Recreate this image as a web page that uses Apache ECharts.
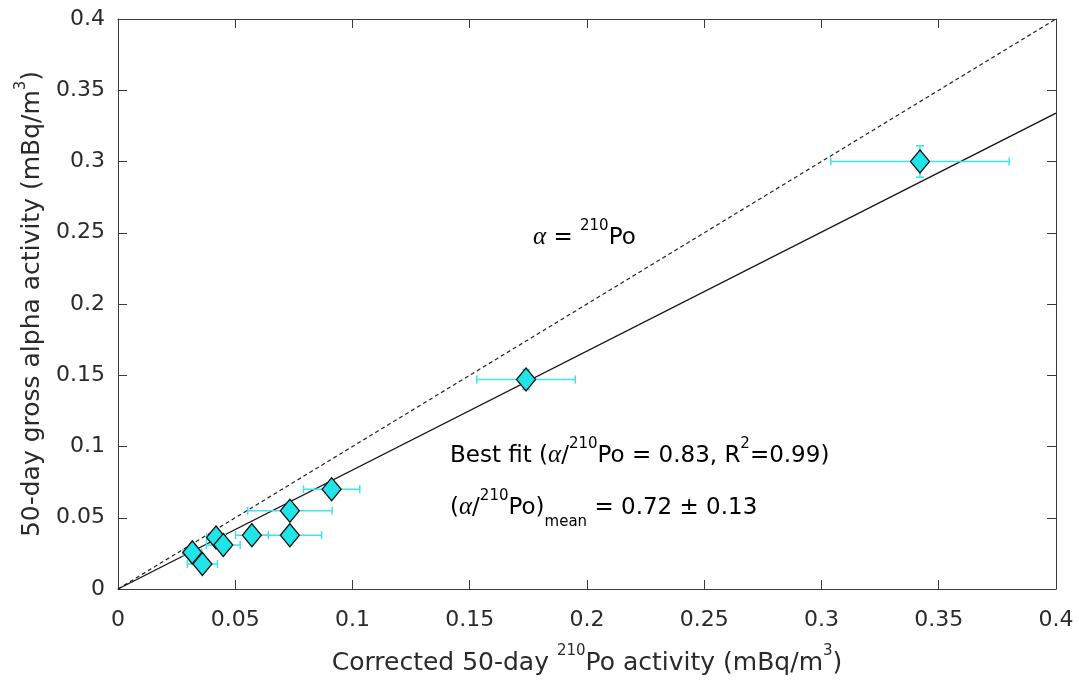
<!DOCTYPE html>
<html><head><meta charset="utf-8">
<script src="https://cdn.jsdelivr.net/npm/echarts@6/dist/echarts.min.js"></script>
<style>html,body{margin:0;padding:0;background:#fff}#c{width:1079px;height:681px}</style>
</head><body><div id="c"></div>
<script>
var xTicks = [0, 0.05, 0.1, 0.15, 0.2, 0.25, 0.3, 0.35, 0.4];
var xVals = [0.0317, 0.0360, 0.0418, 0.0449, 0.0571, 0.0733, 0.0733, 0.0911, 0.174, 0.342];
var yVals = [0.0257, 0.0175, 0.0362, 0.0308, 0.0378, 0.0378, 0.0549, 0.0700, 0.147, 0.300];
var xErr  = [0.0040, 0.0064, 0.0040, 0.0072, 0.0070, 0.0135, 0.0180, 0.0120, 0.021, 0.038];
var yErr  = [0.0030, 0.0030, 0.0030, 0.0030, 0.0030, 0.0030, 0.0030, 0.0040, 0.007, 0.011];
var oneToOne = [[0, 0], [0.4, 0.4]];
var fitLine = [[0, 0], [0.4, 0.334]];

var pts = xVals.map(function (x, i) { return [x, yVals[i]]; });
var errData = xVals.map(function (x, i) { return [x, yVals[i], xErr[i], yErr[i]]; });

var chart = echarts.init(document.getElementById('c'));
var axisCol = '#3a3a3a';
var lblCol = '#2a2a2a';
var font = 'DejaVu Sans, sans-serif';
var supRich = {
  b: { fontSize: 23, fontFamily: font, color: '#1a1a1a', lineHeight: 32, verticalAlign: 'bottom' },
  s: { fontSize: 15, fontFamily: font, color: '#1a1a1a', lineHeight: 32, verticalAlign: 'top', padding: [1, 0, 0, 0] },
  a: { fontSize: 25, fontFamily: 'Liberation Serif, serif', fontStyle: 'italic', color: '#1a1a1a', lineHeight: 32, verticalAlign: 'bottom' },
  sub: { fontSize: 15, fontFamily: font, color: '#1a1a1a', lineHeight: 32, verticalAlign: 'bottom', padding: [0, 0, -10, 0] }
};
var axRich = {
  b: { fontSize: 25, fontFamily: font, color: lblCol, lineHeight: 32, verticalAlign: 'bottom' },
  s: { fontSize: 15, fontFamily: font, color: lblCol, lineHeight: 32, verticalAlign: 'top' }
};

function valAxis(extra) {
  return Object.assign({
    type: 'value', min: 0, max: 0.4, interval: 0.05,
    axisLine: { show: true, onZero: false, lineStyle: { color: axisCol, width: 1 } },
    axisTick: { show: true, inside: true, length: 9, lineStyle: { color: axisCol } },
    splitLine: { show: false },
    axisLabel: { color: lblCol, fontSize: 22, fontFamily: font, margin: 13,
      formatter: function (v) { return String(+v.toFixed(2)); } }
  }, extra);
}

chart.setOption({
  animation: false,
  grid: { left: 118, right: 23, top: 19, bottom: 91 },
  xAxis: [
    valAxis({ position: 'bottom', name: '{b|Corrected 50-day }{s|210}{b|Po activity (mBq/m}{s|3}{b|)}',
      nameLocation: 'middle', nameGap: 55, nameTextStyle: { rich: axRich },
      axisLabel: { color: lblCol, fontSize: 22, fontFamily: font, margin: 20,
        formatter: function (v) { return String(+v.toFixed(2)); } } }),
    valAxis({ position: 'top', axisLabel: { show: false } })
  ],
  yAxis: [
    valAxis({ position: 'left', name: '{b|50-day gross alpha activity (mBq/m}{s|3}{b|)}',
      nameLocation: 'middle', nameRotate: 90, nameGap: 68, nameTextStyle: { rich: axRich } }),
    valAxis({ position: 'right', axisLabel: { show: false } })
  ],
  graphic: [
    { type: 'text', left: 533, top: 218, style: { text: '{a|α}{b| = }{s|210}{b|Po}', rich: supRich } },
    { type: 'text', left: 450, top: 436, style: { text: '{b|Best fit (}{a|α}{b|/}{s|210}{b|Po = 0.83, R}{s|2}{b|=0.99)}', rich: supRich } },
    { type: 'text', left: 450, top: 488, style: { text: '{b|(}{a|α}{b|/}{s|210}{b|Po)}{sub|mean}{b| = 0.72 ± 0.13}', rich: supRich } }
  ],
  series: [
    { type: 'line', data: oneToOne, symbol: 'none', lineStyle: { color: '#222', width: 1.2, type: [4, 3] }, z: 2 },
    { type: 'line', data: fitLine, symbol: 'none', lineStyle: { color: '#111', width: 1.3 }, z: 2 },
    { type: 'custom', data: errData, z: 3,
      renderItem: function (params, api) {
        var x = api.value(0), y = api.value(1), ex = api.value(2), ey = api.value(3);
        var l = api.coord([x - ex, y]), r = api.coord([x + ex, y]);
        var t = api.coord([x, y + ey]), b = api.coord([x, y - ey]);
        var c = 4, st = { stroke: '#3fe3ea', lineWidth: 1.5 };
        return { type: 'group', children: [
          { type: 'line', shape: { x1: l[0], y1: l[1], x2: r[0], y2: r[1] }, style: st },
          { type: 'line', shape: { x1: l[0], y1: l[1] - c, x2: l[0], y2: l[1] + c }, style: st },
          { type: 'line', shape: { x1: r[0], y1: r[1] - c, x2: r[0], y2: r[1] + c }, style: st },
          { type: 'line', shape: { x1: t[0], y1: t[1], x2: b[0], y2: b[1] }, style: st },
          { type: 'line', shape: { x1: t[0] - c, y1: t[1], x2: t[0] + c, y2: t[1] }, style: st },
          { type: 'line', shape: { x1: b[0] - c, y1: b[1], x2: b[0] + c, y2: b[1] }, style: st }
        ] };
      }
    },
    { type: 'scatter', data: pts, symbol: 'diamond', symbolSize: [19, 23], z: 4,
      itemStyle: { color: '#1fe4e8', borderColor: '#111', borderWidth: 1.3, opacity: 1 } }
  ]
});
</script></body></html>
